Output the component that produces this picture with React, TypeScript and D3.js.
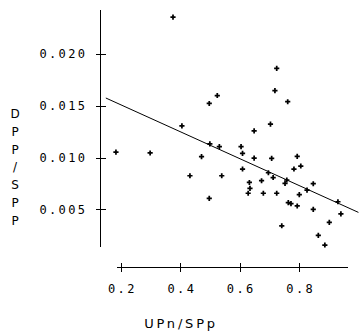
import * as d3 from "d3";
import { useEffect, useRef } from "react";

const X_TICKS = [0.2, 0.4, 0.6, 0.8];
const Y_TICKS = [0.005, 0.01, 0.015, 0.02];

// UPn/SPp (x) against DPP/SPP (y)
const UPN = [
  0.376, 0.184, 0.299, 0.406, 0.525, 0.498, 0.725, 0.719, 0.762, 0.704,
  0.649, 0.5, 0.532, 0.605, 0.61, 0.472, 0.649, 0.708, 0.794, 0.806,
  0.783, 0.61, 0.433, 0.54, 0.697, 0.713, 0.633, 0.674, 0.635, 0.629,
  0.68, 0.725, 0.498, 0.753, 0.759, 0.848, 0.801, 0.827, 0.764, 0.773,
  0.794, 0.848, 0.931, 0.941, 0.742, 0.902, 0.865, 0.887,
];
const DPP = [
  0.02357, 0.01053, 0.01044, 0.01305, 0.01599, 0.01522, 0.01862, 0.01646, 0.01539, 0.01322,
  0.01258, 0.01131, 0.01105, 0.01105, 0.01041, 0.01008, 0.00995, 0.00992, 0.01012, 0.00918,
  0.00889, 0.00889, 0.00824, 0.00824, 0.00853, 0.00807, 0.00759, 0.00776, 0.00703, 0.00655,
  0.00655, 0.00655, 0.00606, 0.00751, 0.00783, 0.00747, 0.00641, 0.00686, 0.00564, 0.00554,
  0.00532, 0.005, 0.00573, 0.00455, 0.00341, 0.00374, 0.00249, 0.00155,
];

// fitted line y = a + b x, drawn across this x span
const FIT_A = 0.0177;
const FIT_B = -0.013;
const FIT_SPAN = [0.15, 1.0];

const Y_TITLE = "DPP/SPP";
const X_TITLE = "UPn/SPp";

export default function App() {
  const ref = useRef<SVGSVGElement | null>(null);

  useEffect(() => {
    if (!ref.current) return;
    const svg = d3.select(ref.current);
    svg.selectAll("*").remove();

    const x = d3.scaleLinear().domain([0.2, 0.8]).range([120.7, 299]);
    const y = d3.scaleLinear().domain([0.005, 0.02]).range([209.3, 54]);
    const mono = "'DejaVu Sans Mono', monospace";

    // y axis, ticks cross the line
    const gy = svg
      .append("g")
      .attr("transform", "translate(100.5,0)")
      .call(d3.axisLeft(y).tickValues(Y_TICKS).tickFormat(d3.format(".3f")).tickSize(5).tickPadding(8) as any);
    gy.select(".domain").remove();
    gy.attr("shape-rendering", "crispEdges");
    gy.append("line").attr("y1", 10).attr("y2", 247).attr("stroke", "#000");
    gy.selectAll(".tick line").attr("x1", -5).attr("x2", 5).attr("stroke", "#000");
    gy.selectAll(".tick text")
      .attr("font-family", mono)
      .attr("font-size", 12)
      .attr("letter-spacing", 2.4)
      .attr("fill", "#000");

    // x axis
    const gx = svg
      .append("g")
      .attr("transform", "translate(0,267.5)")
      .call(d3.axisBottom(x).tickValues(X_TICKS).tickFormat(d3.format(".1f")).tickSize(5) as any);
    gx.select(".domain").remove();
    gx.attr("shape-rendering", "crispEdges");
    gx.append("line").attr("x1", 117).attr("x2", 348).attr("stroke", "#000");
    gx.selectAll(".tick line").attr("y1", -4.5).attr("y2", 4.5).attr("stroke", "#000");
    gx.selectAll(".tick text")
      .attr("y", 17)
      .attr("dy", "0.71em")
      .attr("dx", 1.2)
      .attr("font-family", mono)
      .attr("font-size", 12)
      .attr("letter-spacing", 2.4)
      .attr("fill", "#000");

    // regression line
    const line = d3
      .line<number>()
      .x((d) => x(d))
      .y((d) => y(FIT_A + FIT_B * d));
    svg.append("path").datum(FIT_SPAN).attr("d", line).attr("fill", "none").attr("stroke", "#000").attr("stroke-width", 1);

    // points
    const cross = d3.symbol().type(d3.symbolCross).size(15);
    svg
      .append("g")
      .selectAll("path")
      .data(d3.range(UPN.length))
      .join("path")
      .attr("d", cross)
      .attr("transform", (i) => `translate(${x(UPN[i])},${y(DPP[i])})`)
      .attr("fill", "#000");

    // stacked y title
    svg
      .append("g")
      .selectAll("text")
      .data(Y_TITLE.split(""))
      .join("text")
      .attr("x", 15)
      .attr("y", (_, i) => 118 + i * 17.8)
      .attr("text-anchor", "middle")
      .attr("font-family", "'DejaVu Sans', sans-serif")
      .attr("font-size", 12)
      .attr("fill", "#000")
      .text((d) => d);

    svg
      .append("text")
      .attr("x", 181)
      .attr("y", 328)
      .attr("text-anchor", "middle")
      .attr("font-family", "'DejaVu Sans', sans-serif")
      .attr("font-size", 13)
      .attr("letter-spacing", 2.8)
      .attr("fill", "#000")
      .text(X_TITLE);
  }, []);

  return (
    <svg
      ref={ref}
      width={360}
      height={332}
      style={{ position: "absolute", left: 0, top: 0, background: "#fff" }}
    />
  );
}
